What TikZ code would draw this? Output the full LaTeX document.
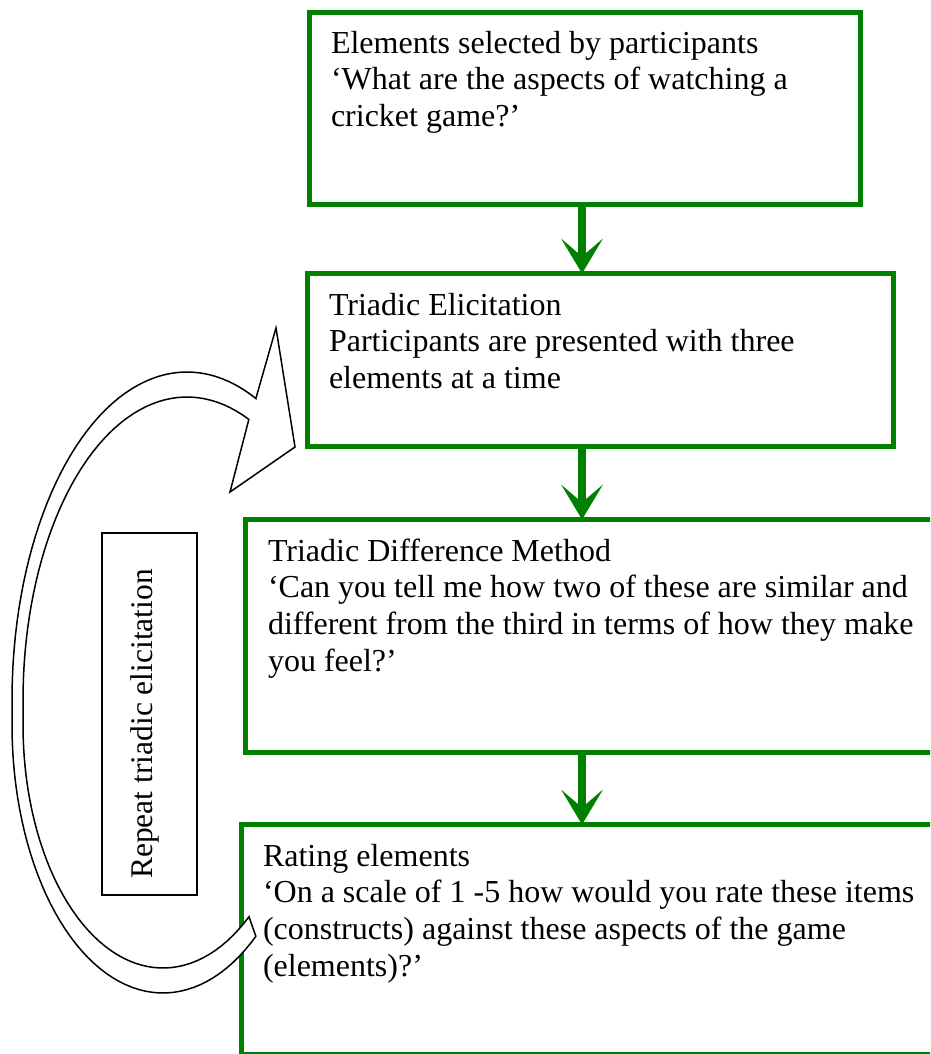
\documentclass[tikz,border=0pt]{standalone}
\usepackage{fontspec}
\setmainfont{Liberation Serif}
\usetikzlibrary{arrows.meta}
\definecolor{flowgreen}{RGB}{0,128,0}
\begin{document}
\begin{tikzpicture}[x=1pt, y=-1pt,
  every node/.style={inner sep=0pt, outer sep=0pt},
  stagebox/.style={draw=flowgreen, line width=5pt, fill=white, rectangle},
  % multi-line nodes: the base anchor sits on the last line
  stagetext/.style={anchor=base west, align=left, text=black,
    font=\fontsize{32}{36.8}\selectfont},
  flow/.style={draw=flowgreen, line width=8pt,
    -{Stealth[length=35pt, width=42pt, inset=18pt, line width=0pt, fill=flowgreen]}},
  loopbox/.style={draw=black, line width=1.4pt, fill=white, rectangle},
  looparrow/.style={draw=black, line width=1.5pt, fill=white, line join=miter}
]
\clip (0,0) rectangle (930,1054);
\fill[white] (0,0) rectangle (930,1054);

% the four stages
\node[stagebox, minimum width=551.5pt, minimum height=192pt] (b1) at (584.75,108.5) {};
\node[stagebox, minimum width=586pt, minimum height=173pt] (b2) at (600.5,360) {};
\node[stagebox, minimum width=715pt, minimum height=232.5pt] (b3) at (602.5,635.75) {};
\node[stagebox, minimum width=719pt, minimum height=229.5pt] (b4) at (600.5,939.25) {};

\node[stagetext] (t1) at (331,126.6) {Elements selected by participants\\‘What are the aspects of watching a\\cricket game?’};
\node[stagetext] (t2) at (329,388.6) {Triadic Elicitation\\Participants are presented with three\\elements at a time};
\node[stagetext] (t3) at (268,671.4) {Triadic Difference Method\\‘Can you tell me how two of these are similar and\\different from the third in terms of how they make\\you feel?’};
\node[stagetext] (t4) at (263,976.4) {Rating elements\\‘On a scale of 1 -5 how would you rate these items\\(constructs) against these aspects of the game\\(elements)?’};

% downward connectors
\coordinate (ax) at (582,0);
\draw[flow] (b1.south -| ax) -- (b2.north -| ax);
\draw[flow] (b2.south -| ax) -- (b3.north -| ax);
\draw[flow] (b3.south -| ax) -- (b4.north -| ax);

% label of the loop
\node[loopbox, minimum width=95pt, minimum height=362pt] (rb) at (149.5,714) {};
\node[rotate=90, anchor=base, font=\fontsize{31.5}{36}\selectfont] (rt) at (152,724) {Repeat triadic elicitation};

% curved block arrow back to triadic elicitation
\draw[looparrow]
  plot[domain=0:1, samples=50] ({163+140*cos(307.9-127.9*\x)},{725-243*sin(307.9-127.9*\x)})
  -- plot[domain=0:1, samples=50] ({187+164*cos(180-112.2*\x)},{700-303*sin(180-112.2*\x)})
  -- (230,492) -- (295,447) -- (276,328) -- (256,398)
  -- plot[domain=0:1, samples=50] ({187+175*cos(66.8+113.2*\x)},{700-328*sin(66.8+113.2*\x)})
  -- plot[domain=0:1, samples=50] ({163+151*cos(180+128*\x)},{725-268*sin(180+128*\x)})
  -- cycle;
\end{tikzpicture}
\end{document}
